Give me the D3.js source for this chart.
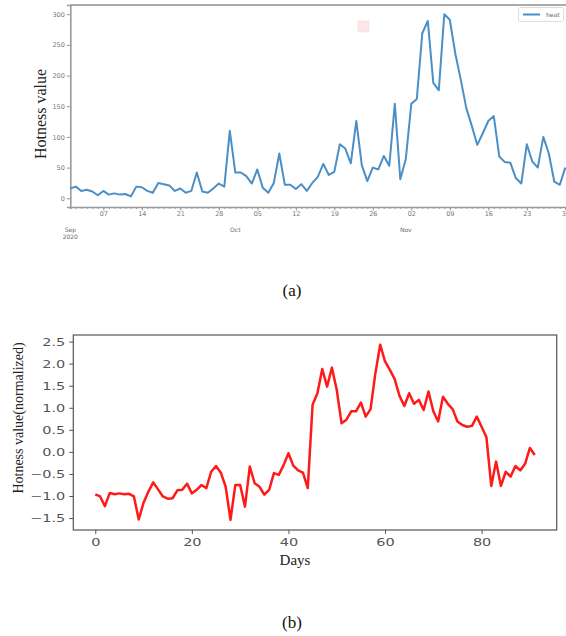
<!DOCTYPE html>
<html>
<head>
<meta charset="utf-8">
<script src="https://cdn.jsdelivr.net/npm/d3@7"></script>
<style>
  html, body { margin: 0; padding: 0; background: #fff; }
  svg { display: block; }
</style>
</head>
<body>
<svg id="chart" width="566" height="636"></svg>
<script>
// ---------- Data (a): daily hotness, 2020-09-01 .. 2020-11-30 ----------
const startDate = "2020-09-01";
const endDate = "2020-11-30";
const heatValues = [
  16,19,12,14,11,5,12,6,8,6,7,3,19,18,12,9,25,23,21,12,16,9,12,42,
  11,9,16,24,19,110,42,42,36,24,47,17,9,25,73,22,22,15,23,12,25,35,56,38,43,88,81,57,126,54,28,50,47,69,53,
  154,31,64,154,162,269,289,188,176,300,291,236,193,147,118,87,106,126,134,68,59,58,33,24,88,60,50,100,73,27,22,50
];
const heatYTicks = [0, 50, 100, 150, 200, 250, 300];
const heatLegend = ["heat"];
const monthLabels = [
  { date: "2020-09-01", lines: ["Sep", "2020"] },
  { date: "2020-10-01", lines: ["Oct"] },
  { date: "2020-11-01", lines: ["Nov"] }
];

// ---------- Data (b): normalized hotness by day index ----------
const normValues = [
  -0.96,-1.01,-1.23,-0.93,-0.96,-0.94,-0.96,-0.95,-1.01,-1.53,-1.15,-0.90,-0.69,-0.85,-1.01,-1.06,-1.05,-0.87,-0.86,-0.72,
  -0.94,-0.86,-0.75,-0.82,-0.45,-0.32,-0.47,-0.79,-1.54,-0.75,-0.75,-1.24,-0.33,-0.71,-0.79,-0.97,-0.86,-0.48,-0.52,-0.30,-0.03,-0.31,-0.42,-0.47,-0.82,
  1.07,1.33,1.88,1.48,1.91,1.41,0.65,0.73,0.92,0.92,1.12,0.80,0.97,1.78,
  2.43,2.05,1.86,1.65,1.27,1.04,1.33,1.09,1.18,0.95,1.37,0.92,0.69,1.25,1.09,0.97,0.69,0.61,0.57,0.59,0.80,0.57,0.33,-0.77,-0.22,-0.77,-0.45,-0.56,-0.32,-0.42,-0.27,0.09,-0.07
];
const normYTicks = [-1.5, -1.0, -0.5, 0.0, 0.5, 1.0, 1.5, 2.0, 2.5];
const normXTicks = [0, 20, 40, 60, 80];

const captions = ["(a)", "(b)"];

const svg = d3.select("#chart");
const parse = d3.utcParse("%Y-%m-%d");
const serif = "'Liberation Serif', 'Times New Roman', serif";
const sans = "'DejaVu Sans', sans-serif";

// ================= Chart (a) =================
const aLeft = 70.3, aRight = 565.3, aTop = 5, aBottom = 207;
const xA = d3.scaleUtc().domain([parse(startDate), parse(endDate)]).range([aLeft, aRight]);
const yA = d3.scaleLinear().domain([-14.2, 315]).range([aBottom, aTop]);
const days = d3.utcDay.range(parse(startDate), d3.utcDay.offset(parse(endDate), 1));
const heatData = days.map((d, i) => ({ date: d, v: heatValues[i] }));

const gA = svg.append("g");
gA.append("line").attr("x1", aLeft).attr("x2", 566).attr("y1", aTop).attr("y2", aTop)
  .attr("stroke", "#aaa").attr("stroke-width", 2);

const yAxisA = d3.axisLeft(yA).tickValues(heatYTicks).tickSize(3.5).tickPadding(2);
const gyA = gA.append("g").attr("transform", `translate(${aLeft},0)`).call(yAxisA);
gyA.select(".domain").attr("stroke", "#999").attr("stroke-width", 1.6);
gyA.selectAll(".tick line").attr("stroke", "#999");
gyA.selectAll("text").attr("font-family", sans).attr("font-size", 6.5).attr("fill", "#777");

const xAxisMinor = d3.axisBottom(xA).tickValues(days).tickSize(2).tickFormat("");
const gxm = gA.append("g").attr("transform", `translate(0,${aBottom})`).call(xAxisMinor);
gxm.select(".domain").attr("stroke", "#999").attr("stroke-width", 1.6);
gxm.selectAll(".tick line").attr("stroke", "#999");

const weekly = d3.utcDay.range(parse("2020-09-07"), d3.utcDay.offset(parse(endDate), 1), 7);
const xAxisMajor = d3.axisBottom(xA).tickValues(weekly).tickSize(3.5).tickPadding(1)
  .tickFormat(d3.utcFormat("%d"));
const gxM = gA.append("g").attr("transform", `translate(0,${aBottom})`).call(xAxisMajor);
gxM.select(".domain").remove();
gxM.selectAll(".tick line").attr("stroke", "#999");
gxM.selectAll("text").attr("font-family", sans).attr("font-size", 6.5).attr("fill", "#777");

monthLabels.forEach(m => {
  const t = gA.append("text").attr("x", xA(parse(m.date))).attr("y", 232)
    .attr("text-anchor", "middle").attr("font-family", sans).attr("font-size", 6)
    .attr("fill", "#666");
  m.lines.forEach((l, i) => t.append("tspan").attr("x", xA(parse(m.date))).attr("dy", i === 0 ? 0 : 7).text(l));
});

gA.append("text").attr("transform", `translate(46,114) rotate(-90)`)
  .attr("text-anchor", "middle").attr("font-family", serif).attr("font-size", 16)
  .attr("fill", "#222").text("Hotness value");

const lineA = d3.line().x(d => xA(d.date)).y(d => yA(d.v));
gA.append("path").datum(heatData).attr("d", lineA)
  .attr("fill", "none").attr("stroke", "#4b8fc6").attr("stroke-width", 2)
  .attr("stroke-linejoin", "round");

gA.append("rect").attr("x", 358).attr("y", 21).attr("width", 11).attr("height", 11)
  .attr("fill", "#fce6ea").attr("stroke", "#f6d3db").attr("stroke-width", 0.5);

const lg = gA.append("g");
lg.append("rect").attr("x", 518.5).attr("y", 7.5).attr("width", 45).attr("height", 14).attr("rx", 2)
  .attr("fill", "#fff").attr("stroke", "#ddd");
lg.append("line").attr("x1", 523).attr("x2", 540).attr("y1", 14.5).attr("y2", 14.5)
  .attr("stroke", "#4b8fc6").attr("stroke-width", 2);
lg.append("text").attr("x", 546).attr("y", 16.8).attr("font-family", sans).attr("font-size", 6)
  .attr("fill", "#666").text(heatLegend[0]);

svg.append("text").attr("x", 292).attr("y", 296).attr("text-anchor", "middle")
  .attr("font-family", serif).attr("font-size", 17).attr("fill", "#111").text(captions[0]);

// ================= Chart (b) =================
const bLeft = 73.3, bRight = 556.7, bTop = 335, bBottom = 530;
const xB = d3.scaleLinear().domain([-4.55, 95.55]).range([bLeft, bRight]);
const yB = d3.scaleLinear().domain([-1.77, 2.65]).range([bBottom, bTop]);
const gB = svg.append("g");

gB.append("rect").attr("x", bLeft).attr("y", bTop).attr("width", bRight - bLeft).attr("height", bBottom - bTop)
  .attr("fill", "none").attr("stroke", "#555").attr("stroke-width", 1.2);

const tickFmt = v => (v < 0 ? "\u2212" : "") + Math.abs(v).toFixed(1);
const gyB = gB.append("g").attr("transform", `translate(${bLeft},0)`)
  .call(d3.axisLeft(yB).tickValues(normYTicks).tickSize(4).tickFormat(tickFmt));
gyB.select(".domain").remove();
gyB.selectAll(".tick line").attr("stroke", "#555");
gyB.selectAll("text").attr("x", 0).attr("dy", "0.35em")
  .attr("transform", "translate(-8,0) scale(1.45,1)")
  .attr("font-family", sans).attr("font-size", 10).attr("fill", "#555");

const gxB = gB.append("g").attr("transform", `translate(0,${bBottom})`)
  .call(d3.axisBottom(xB).tickValues(normXTicks).tickSize(4).tickPadding(5));
gxB.select(".domain").remove();
gxB.selectAll(".tick line").attr("stroke", "#555");
gxB.selectAll(".tick text").attr("x", 0).attr("transform", "scale(1.45,1)")
  .attr("font-family", sans).attr("font-size", 10).attr("fill", "#555");

gB.append("text").attr("x", 295).attr("y", 565).attr("text-anchor", "middle")
  .attr("font-family", serif).attr("font-size", 15).attr("fill", "#222").text("Days");

gB.append("text").attr("transform", `translate(23,418) rotate(-90)`)
  .attr("text-anchor", "middle").attr("font-family", serif).attr("font-size", 14)
  .attr("fill", "#222").text("Hotness value(normalized)");

const lineB = d3.line().x((d, i) => xB(i)).y(d => yB(d));
gB.append("path").datum(normValues).attr("d", lineB)
  .attr("fill", "none").attr("stroke", "#ff1a1a").attr("stroke-width", 2.5)
  .attr("stroke-linejoin", "round");

svg.append("text").attr("x", 292).attr("y", 628).attr("text-anchor", "middle")
  .attr("font-family", serif).attr("font-size", 17).attr("fill", "#111").text(captions[1]);
</script>
</body>
</html>
